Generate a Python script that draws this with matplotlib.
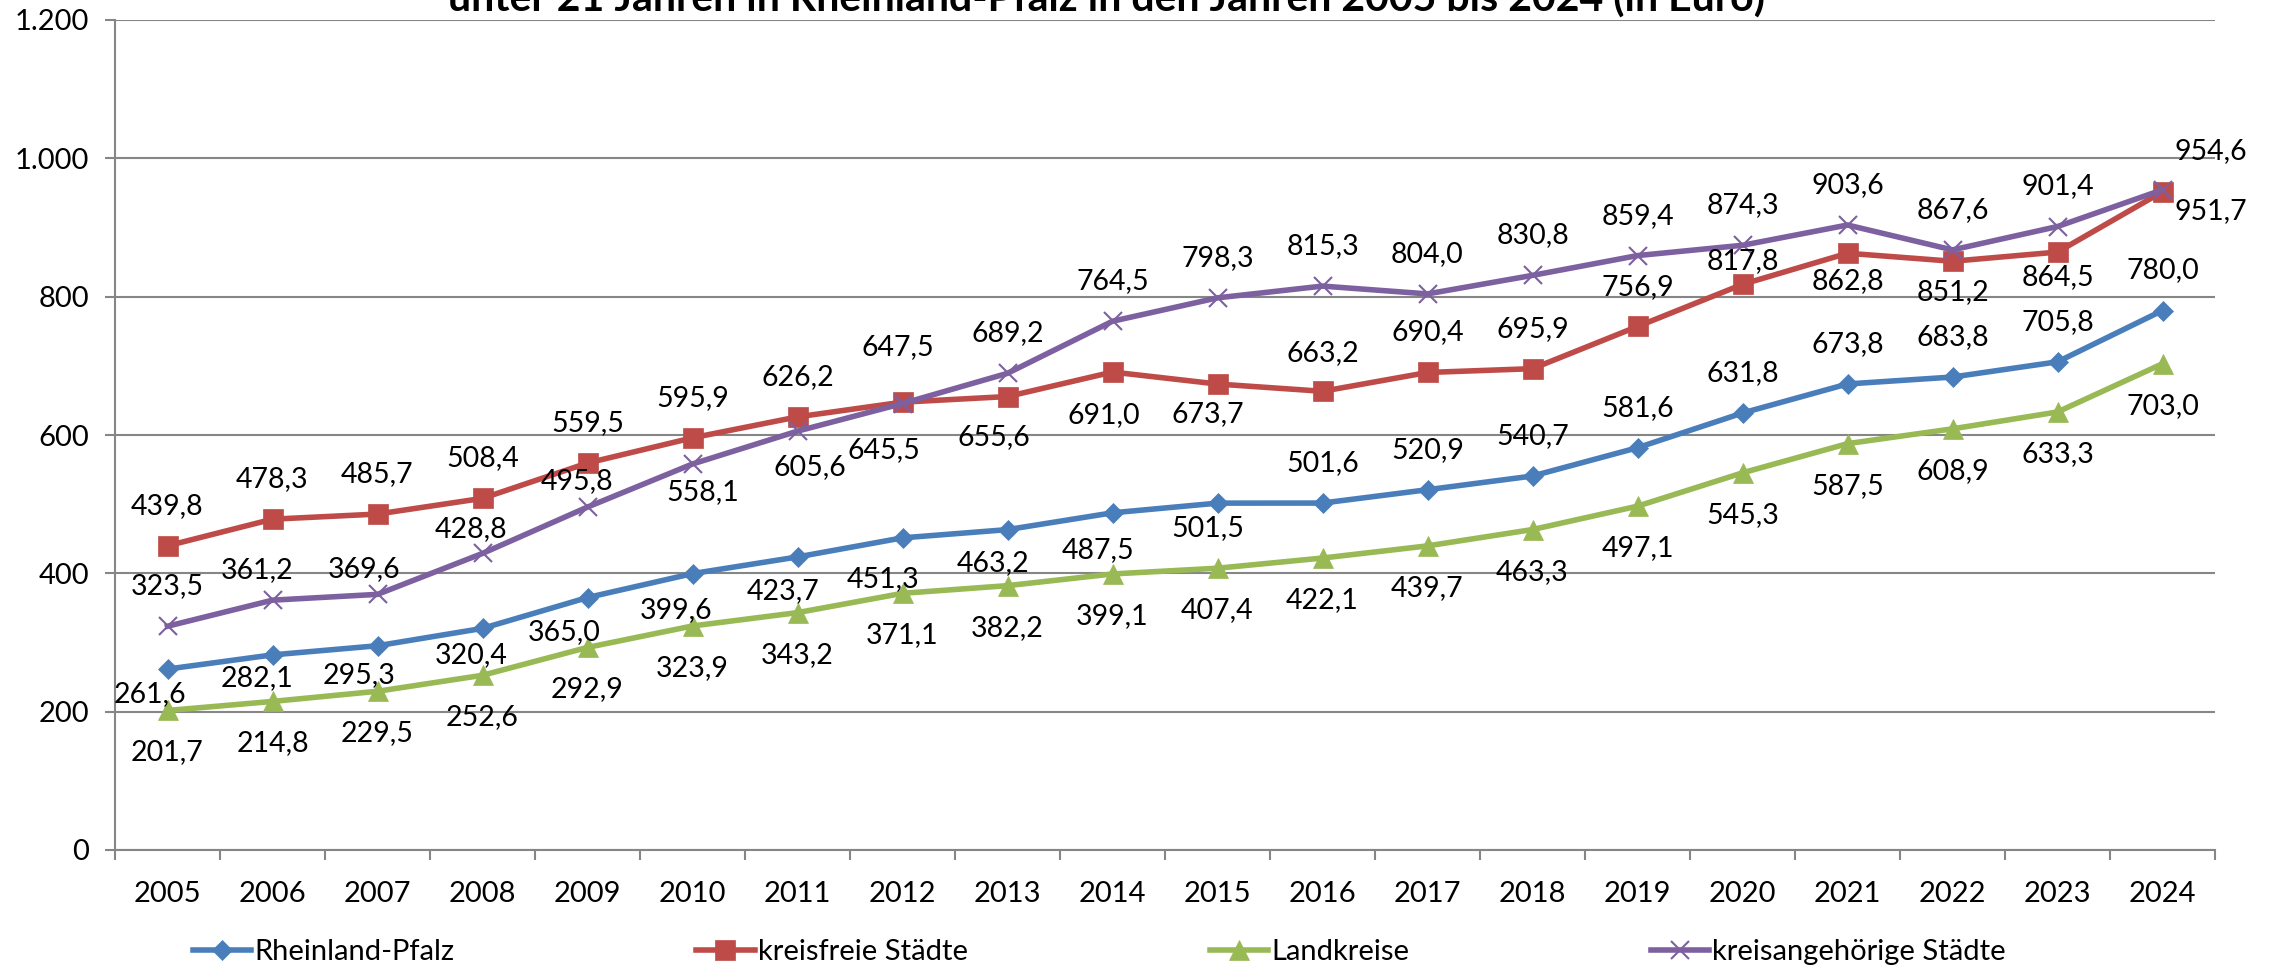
import matplotlib
matplotlib.use("Agg")
import matplotlib.pyplot as plt
from matplotlib.ticker import FixedLocator, FuncFormatter

plt.rcParams['font.family'] = ['Lato', 'DejaVu Sans']

# Daten
jahre = ['2005', '2006', '2007', '2008', '2009', '2010', '2011', '2012', '2013', '2014',
         '2015', '2016', '2017', '2018', '2019', '2020', '2021', '2022', '2023', '2024']
rlp = [261.6, 282.1, 295.3, 320.4, 365.0, 399.6, 423.7, 451.3, 463.2, 487.5,
       501.5, 501.6, 520.9, 540.7, 581.6, 631.8, 673.8, 683.8, 705.8, 780.0]
kfs = [439.8, 478.3, 485.7, 508.4, 559.5, 595.9, 626.2, 647.5, 655.6, 691.0,
       673.7, 663.2, 690.4, 695.9, 756.9, 817.8, 862.8, 851.2, 864.5, 951.7]
lk = [201.7, 214.8, 229.5, 252.6, 292.9, 323.9, 343.2, 371.1, 382.2, 399.1,
      407.4, 422.1, 439.7, 463.3, 497.1, 545.3, 587.5, 608.9, 633.3, 703.0]
kas = [323.5, 361.2, 369.6, 428.8, 495.8, 558.1, 605.6, 645.5, 689.2, 764.5,
       798.3, 815.3, 804.0, 830.8, 859.4, 874.3, 903.6, 867.6, 901.4, 954.6]
namen = ['Rheinland-Pfalz', 'kreisfreie Städte', 'Landkreise', 'kreisangehörige Städte']
y_ticks = [0, 200, 400, 600, 800, 1000, 1200]
titel = 'unter 21 Jahren in Rheinland-Pfalz in den Jahren 2005 bis 2024 (in Euro)'

# Versatz der Beschriftungen (Pixel, y nach unten)
off_rlp = [(-18, 25), (-15, 23), (-18, 29), (-11, 27), (-23, 35), (-16, 36), (-14, 34),
           (-19, 41), (-14, 33), (-14, 37), (-10, 25)] + [(0, -40)] * 9
off_kfs = [(0, -40)] * 7 + [(-5, -55), (-14, 41), (-9, 43), (-10, 30), (0, -38), (0, -40),
                            (0, -40), (0, -39), (0, -23), (0, 28), (0, 31), (0, 25), (48, 19)]
off_lk = [(0, 42)] * 20
off_kas = [(0, -40), (-15, -30), (-13, -25), (-11, -24), (-10, -26), (10, 28), (12, 36),
           (-19, 47)] + [(0, -40)] * 11 + [(48, -39)]

fig = plt.figure(figsize=(22.75, 9.65), dpi=100)
ax = fig.add_axes([115 / 2275, 1 - 850 / 965, 2100 / 2275, 830 / 965])

x = list(range(len(jahre)))
serien = [
    (rlp, '#4A7EBB', 'D', 10.5, off_rlp),
    (kfs, '#BE4B48', 's', 14, off_kfs),
    (lk, '#98B954', '^', 14, off_lk),
    (kas, '#7D60A0', 'x', 13, off_kas),
]
for (werte, farbe, m, ms, offs), name in zip(serien, namen):
    ax.plot(x, werte, color=farbe, lw=4, marker=m, markersize=ms,
            markerfacecolor=farbe, markeredgecolor=farbe,
            markeredgewidth=1.5 if m == 'x' else 0.5, label=name, zorder=3,
            solid_joinstyle='round')
    for xi, v, (dx, dy) in zip(x, werte, offs):
        ax.annotate(f'{v:.1f}'.replace('.', ','), (xi, v), xytext=(dx, -dy),
                    textcoords='offset pixels', ha='center', va='center',
                    fontsize=20.5, color='black', zorder=4)

ax.set_xlim(-0.5, len(jahre) - 0.5)
ax.set_ylim(0, 1200)
ax.yaxis.set_major_locator(FixedLocator(y_ticks))
ax.yaxis.set_major_formatter(FuncFormatter(lambda v, p: f'{int(v):,}'.replace(',', '.')))
ax.set_xticks(x)
ax.set_xticklabels(jahre)
ax.set_xticks([i - 0.5 for i in range(len(jahre) + 1)], minor=True)
ax.tick_params(axis='x', which='major', length=0, pad=22, labelsize=21)
ax.tick_params(axis='x', which='minor', length=7.5, width=1.5, color='#868686')
ax.tick_params(axis='y', length=7.5, width=1.5, color='#868686', pad=11, labelsize=21)
ax.grid(axis='y', color='#868686', lw=1.5, zorder=0)
for s in ['top', 'right']:
    ax.spines[s].set_visible(False)
for s in ['left', 'bottom']:
    ax.spines[s].set_color('#868686')
    ax.spines[s].set_linewidth(1.5)

fig.text(1106 / 2275, 1 - 12 / 965, titel, ha='center', va='baseline',
         fontsize=29.5, fontweight='bold')

fig.legend(loc='center left', bbox_to_anchor=(193 / 2275, 1 - 952 / 965), ncol=4,
           frameon=False, fontsize=21, borderpad=0, borderaxespad=0,
           handlelength=2.0, handletextpad=0.1, columnspacing=8.3, numpoints=1)

fig.savefig('out.png', dpi=100)
